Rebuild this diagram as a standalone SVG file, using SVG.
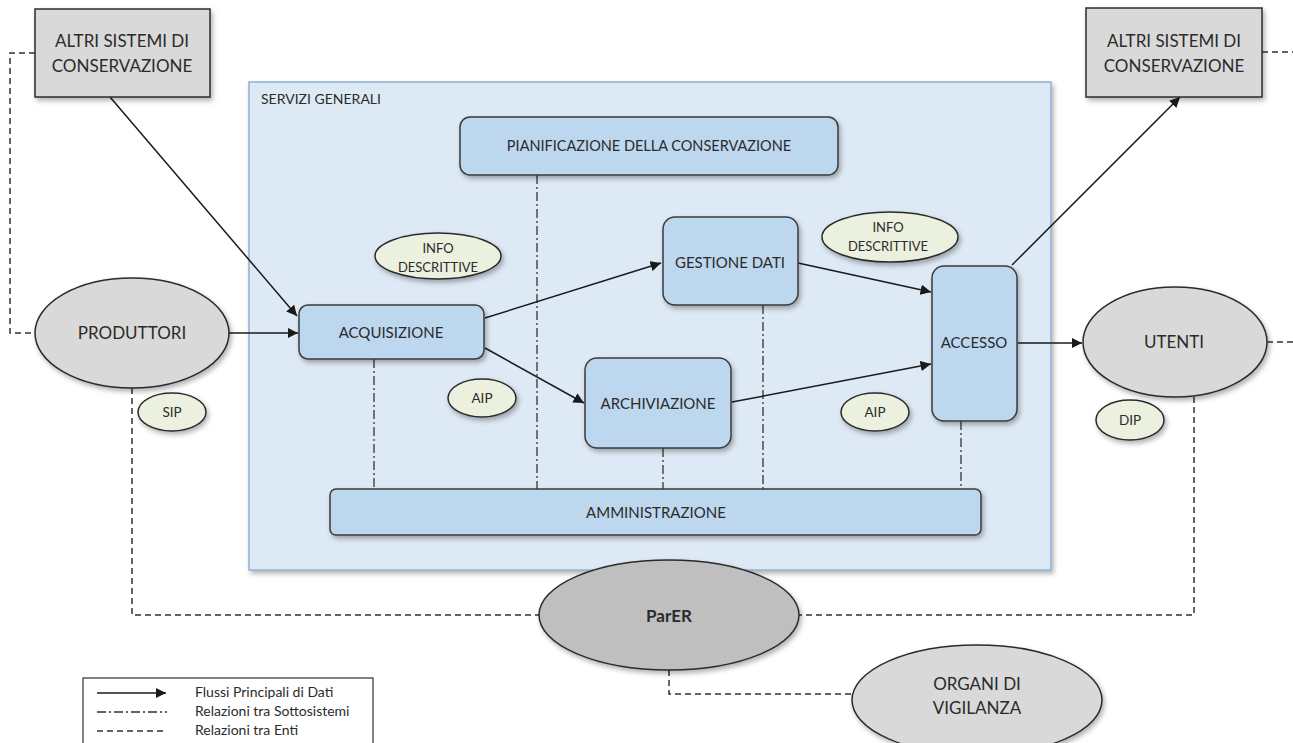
<svg xmlns="http://www.w3.org/2000/svg" width="1293" height="743" viewBox="0 0 1293 743">
<style>
.t{font-family:Lato,"Liberation Sans",sans-serif;fill:#2b2b2b;text-anchor:middle}
.gbox{fill:#d9d9d9;stroke:#2b2b2b;stroke-width:1.5}
.gell{fill:#d9d9d9;stroke:#2b2b2b;stroke-width:1.5}
.bbox{fill:#bdd7ee;stroke:#3a3a3a;stroke-width:1.5}
.grn{fill:#ebf1de;stroke:#2b2b2b;stroke-width:1.5}
.flow{fill:none;stroke:#1a1a1a;stroke-width:1.5}
.ent{fill:none;stroke:#333;stroke-width:1.5;stroke-dasharray:6,4}
.sub{fill:none;stroke:#333;stroke-width:1.3;stroke-dasharray:9,3,2,3}
</style>
<defs>
<filter id="sh" x="-10%" y="-10%" width="130%" height="140%">
<feDropShadow dx="2" dy="3" stdDeviation="2.5" flood-color="#000" flood-opacity="0.3"/>
</filter>
<marker id="ar" viewBox="0 0 10 10" refX="10" refY="5" markerWidth="7" markerHeight="7" orient="auto" markerUnits="strokeWidth">
<path d="M0,0 L10,5 L0,10 z" fill="#1a1a1a"/>
</marker>
</defs>
<rect x="0" y="0" width="1293" height="743" fill="#ffffff"/>

<g id="servizi-generali">
<rect x="249" y="82" width="802" height="488" fill="#dde9f5" stroke="#8eb0d2" stroke-width="1.5" filter="url(#sh)"/>
<text class="t" x="261" y="104" font-size="14" style="text-anchor:start">SERVIZI GENERALI</text>
</g>

<g id="connectors">
<path class="ent" d="M35,53 H10 V333 H36"/>
<path class="ent" d="M1262,52 H1293"/>
<path class="ent" d="M1267,342 H1293"/>
<path class="ent" d="M132,388 V615 H540"/>
<path class="ent" d="M1194,397 V615 H799"/>
<path class="ent" d="M669,670 V694 H852"/>
<path class="sub" d="M537,175 V489"/>
<path class="sub" d="M374,359 V489"/>
<path class="sub" d="M663,448 V489"/>
<path class="sub" d="M763,305 V489"/>
<path class="sub" d="M961,421 V489"/>
<path class="flow" d="M110,97 L297,316" marker-end="url(#ar)"/>
<path class="flow" d="M229,333 L298,333" marker-end="url(#ar)"/>
<path class="flow" d="M485,318 L661,263" marker-end="url(#ar)"/>
<path class="flow" d="M485,348 L584,403" marker-end="url(#ar)"/>
<path class="flow" d="M798,263 L931,292" marker-end="url(#ar)"/>
<path class="flow" d="M732,402 L931,364" marker-end="url(#ar)"/>
<path class="flow" d="M1018,343 L1082,343" marker-end="url(#ar)"/>
<path class="flow" d="M1012,265 L1180,97" marker-end="url(#ar)"/>
</g>

<g id="altri-sistemi-sx">
<rect class="gbox" x="35" y="9" width="175" height="88" filter="url(#sh)"/>
<text class="t" x="122" y="47" font-size="17">ALTRI SISTEMI DI</text>
<text class="t" x="122" y="72" font-size="17">CONSERVAZIONE</text>
</g>
<g id="altri-sistemi-dx">
<rect class="gbox" x="1086" y="8" width="176" height="89" filter="url(#sh)"/>
<text class="t" x="1174" y="47" font-size="17">ALTRI SISTEMI DI</text>
<text class="t" x="1174" y="72" font-size="17">CONSERVAZIONE</text>
</g>

<g id="pianificazione">
<rect class="bbox" x="460" y="117" width="378" height="58" rx="10" filter="url(#sh)"/>
<text class="t" x="649" y="151" font-size="14.5">PIANIFICAZIONE  DELLA CONSERVAZIONE</text>
</g>
<g id="gestione-dati">
<rect class="bbox" x="663" y="217" width="135" height="88" rx="12" filter="url(#sh)"/>
<text class="t" x="730" y="268" font-size="15">GESTIONE DATI</text>
</g>
<g id="acquisizione">
<rect class="bbox" x="299" y="305" width="185" height="54" rx="9" filter="url(#sh)"/>
<text class="t" x="391" y="338" font-size="15">ACQUISIZIONE</text>
</g>
<g id="archiviazione">
<rect class="bbox" x="585" y="358" width="146" height="90" rx="12" filter="url(#sh)"/>
<text class="t" x="658" y="409" font-size="15">ARCHIVIAZIONE</text>
</g>
<g id="accesso">
<rect class="bbox" x="932" y="266" width="85" height="155" rx="12" filter="url(#sh)"/>
<text class="t" x="974" y="348" font-size="15">ACCESSO</text>
</g>
<g id="amministrazione">
<rect class="bbox" x="330" y="489" width="651" height="46" rx="6" filter="url(#sh)"/>
<text class="t" x="656" y="518" font-size="15">AMMINISTRAZIONE</text>
</g>

<g id="info-descrittive-1">
<ellipse class="grn" cx="438" cy="256" rx="63" ry="23" filter="url(#sh)"/>
<text class="t" x="438" y="253" font-size="13">INFO</text>
<text class="t" x="438" y="272" font-size="13">DESCRITTIVE</text>
</g>
<g id="info-descrittive-2">
<ellipse class="grn" cx="890" cy="237" rx="68" ry="25" filter="url(#sh)"/>
<text class="t" x="888" y="232" font-size="13">INFO</text>
<text class="t" x="888" y="251" font-size="13">DESCRITTIVE</text>
</g>
<g id="aip-1">
<ellipse class="grn" cx="482" cy="398" rx="34" ry="19" filter="url(#sh)"/>
<text class="t" x="482" y="403" font-size="13.5">AIP</text>
</g>
<g id="aip-2">
<ellipse class="grn" cx="875" cy="412" rx="34" ry="19" filter="url(#sh)"/>
<text class="t" x="875" y="417" font-size="13.5">AIP</text>
</g>
<g id="sip">
<ellipse class="grn" cx="172" cy="412" rx="34" ry="19" filter="url(#sh)"/>
<text class="t" x="172" y="417" font-size="13.5">SIP</text>
</g>
<g id="dip">
<ellipse class="grn" cx="1130" cy="420" rx="34" ry="20" filter="url(#sh)"/>
<text class="t" x="1130" y="425" font-size="13.5">DIP</text>
</g>

<g id="produttori">
<ellipse class="gell" cx="132" cy="333" rx="97" ry="55" filter="url(#sh)"/>
<text class="t" x="132" y="339" font-size="17">PRODUTTORI</text>
</g>
<g id="utenti">
<ellipse class="gell" cx="1175" cy="342" rx="92" ry="55" filter="url(#sh)"/>
<text class="t" x="1174" y="348" font-size="17">UTENTI</text>
</g>
<g id="parer">
<ellipse cx="669" cy="615" rx="130" ry="55" fill="#bfbfbf" stroke="#2b2b2b" stroke-width="1.5" filter="url(#sh)"/>
<text class="t" x="669" y="622" font-size="17" font-weight="bold">ParER</text>
</g>
<g id="organi-vigilanza">
<ellipse class="gell" cx="977" cy="700" rx="125" ry="55" filter="url(#sh)"/>
<text class="t" x="977" y="690" font-size="17">ORGANI DI</text>
<text class="t" x="977" y="714" font-size="17">VIGILANZA</text>
</g>

<g id="legenda">
<rect x="83" y="678" width="290" height="70" fill="#ffffff" stroke="#333" stroke-width="1.2"/>
<path class="flow" d="M97,693 H166" marker-end="url(#ar)"/>
<path class="sub" d="M97,712 H167" stroke-width="1.2"/>
<path class="ent" d="M97,731 H167" stroke-width="1.2"/>
<text class="t" x="195" y="697" font-size="14" style="text-anchor:start">Flussi Principali di Dati</text>
<text class="t" x="195" y="716" font-size="14" style="text-anchor:start">Relazioni tra Sottosistemi</text>
<text class="t" x="195" y="735" font-size="14" style="text-anchor:start">Relazioni tra Enti</text>
</g>
</svg>
